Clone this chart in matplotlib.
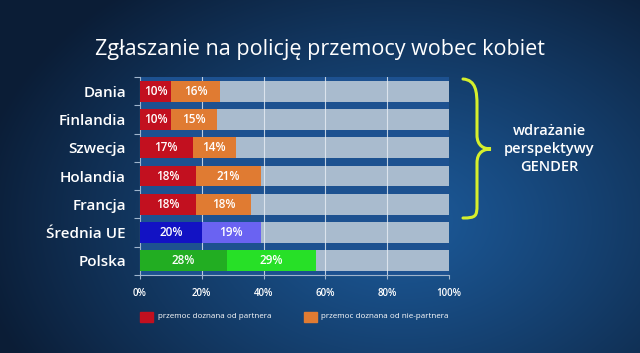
import numpy as np
import matplotlib
matplotlib.use("Agg")
import matplotlib.pyplot as plt
from matplotlib.path import Path
from matplotlib.patches import PathPatch, Rectangle

categories = ["Dania", "Finlandia", "Szwecja", "Holandia", "Francja", "Średnia UE", "Polska"]
partner = [10, 10, 17, 18, 18, 20, 28]
non_partner = [16, 15, 14, 21, 18, 19, 29]
colors_partner = ["#c2101f"] * 5 + ["#1212c4", "#22ad22"]
colors_non = ["#e07b32"] * 5 + ["#6a63f2", "#27e027"]
xticks = [0, 20, 40, 60, 80, 100]
xticklabels = ["0%", "20%", "40%", "60%", "80%", "100%"]
title = "Zgłaszanie na policję przemocy wobec kobiet"
legend_labels = ["przemoc doznana od partnera", "przemoc doznana od nie-partnera"]
side_text = "wdrażanie\nperspektywy\nGENDER"

W, H = 640, 353
fig = plt.figure(figsize=(W / 100, H / 100), dpi=100)
plt.rcParams['font.family'] = ['Open Sans', 'DejaVu Sans']

# background gradient
bg = fig.add_axes([0, 0, 1, 1])
yy, xx = np.mgrid[0:H, 0:W]
d = np.sqrt(((xx - 400) / 430.0) ** 2 + ((yy - 220) / 300.0) ** 2)
d = np.clip(d, 0, 1)
c_in = np.array([0x1c, 0x5a, 0x9a]) / 255
c_out = np.array([0x0b, 0x1d, 0x36]) / 255
t = d ** 1.1
img = c_in[None, None, :] * (1 - t[..., None]) + c_out[None, None, :] * t[..., None]
bg.imshow(img, aspect='auto', extent=[0, W, H, 0])
bg.set_xlim(0, W); bg.set_ylim(H, 0)
bg.axis('off')

def fx(px): return px / W
def fy(py): return 1 - py / H

ax = fig.add_axes([fx(140), fy(275), fx(449) - fx(140), fy(77) - fy(275)])
ax.set_facecolor("#1d5190")
n = len(categories)
ypos = np.arange(n)
bh = 0.74
ax.barh(ypos, [100] * n, height=bh, color="#a9bbce", zorder=1)
for xv in xticks[1:-1]:
    ax.axvline(xv, color="#e8eef5", lw=0.8, alpha=0.8, zorder=2)
ax.barh(ypos, partner, height=bh, color=colors_partner, zorder=3)
ax.barh(ypos, non_partner, left=partner, height=bh, color=colors_non, zorder=3)
for i in range(n):
    ax.text(partner[i] / 2, ypos[i], f"{partner[i]}%", ha='center', va='center',
            color='white', fontsize=8.5, fontweight='semibold', zorder=4)
    ax.text(partner[i] + non_partner[i] / 2, ypos[i], f"{non_partner[i]}%", ha='center',
            va='center', color='white', fontsize=8.5, fontweight='semibold', zorder=4)
ax.set_xlim(0, 100)
ax.set_ylim(n - 0.5, -0.5)
ax.set_yticks(np.arange(n + 1) - 0.5, minor=True)
ax.set_yticks(ypos)
ax.set_yticklabels(categories, color='white', fontsize=11, fontweight='semibold')
ax.tick_params(axis='y', which='major', length=0, pad=10)
ax.tick_params(axis='y', which='minor', length=4, color="#9fb4cc", width=0.8)
ax.set_xticks(xticks)
ax.set_xticklabels(xticklabels, color='white', fontsize=7, fontweight='semibold')
ax.tick_params(axis='x', length=3, color="#9fb4cc", width=0.8, pad=6)
for s in ['top', 'right']:
    ax.spines[s].set_visible(False)
for s in ['left', 'bottom']:
    ax.spines[s].set_color("#9fb4cc")
    ax.spines[s].set_linewidth(0.8)

fig.text(0.5, fy(49), title, ha='center', va='center', color='white', fontsize=15.5,
         fontweight='normal')

# legend
fig.patches.append(Rectangle((fx(140), fy(322)), fx(153) - fx(140), fy(312) - fy(322),
                             transform=fig.transFigure, color=colors_partner[0]))
fig.text(fx(158), fy(317), legend_labels[0], color='white', fontsize=5.8, va='center')
fig.patches.append(Rectangle((fx(304), fy(322)), fx(317) - fx(304), fy(312) - fy(322),
                             transform=fig.transFigure, color=colors_non[0]))
fig.text(fx(321), fy(317), legend_labels[1], color='white', fontsize=5.8, va='center')

# brace
pts = [(463, 79), (476, 80), (477, 92), (477, 105),
       (477, 135),
       (477, 146), (484, 149), (491, 149),
       (484, 149), (477, 152), (477, 163),
       (477, 205),
       (477, 216), (476, 218), (463, 218)]
codes = [Path.MOVETO, Path.CURVE4, Path.CURVE4, Path.CURVE4,
         Path.LINETO,
         Path.CURVE4, Path.CURVE4, Path.CURVE4,
         Path.CURVE4, Path.CURVE4, Path.CURVE4,
         Path.LINETO,
         Path.CURVE4, Path.CURVE4, Path.CURVE4]
verts = [(fx(x), fy(y)) for x, y in pts]
fig.patches.append(PathPatch(Path(verts, codes), transform=fig.transFigure,
                             fill=False, edgecolor="#d6ef2c", lw=2.2, capstyle='round'))
fig.text(fx(549), fy(149), side_text, ha='center', va='center', color='white',
         fontsize=10.5, fontweight='semibold', linespacing=1.4)

fig.savefig("out.png", dpi=100)
